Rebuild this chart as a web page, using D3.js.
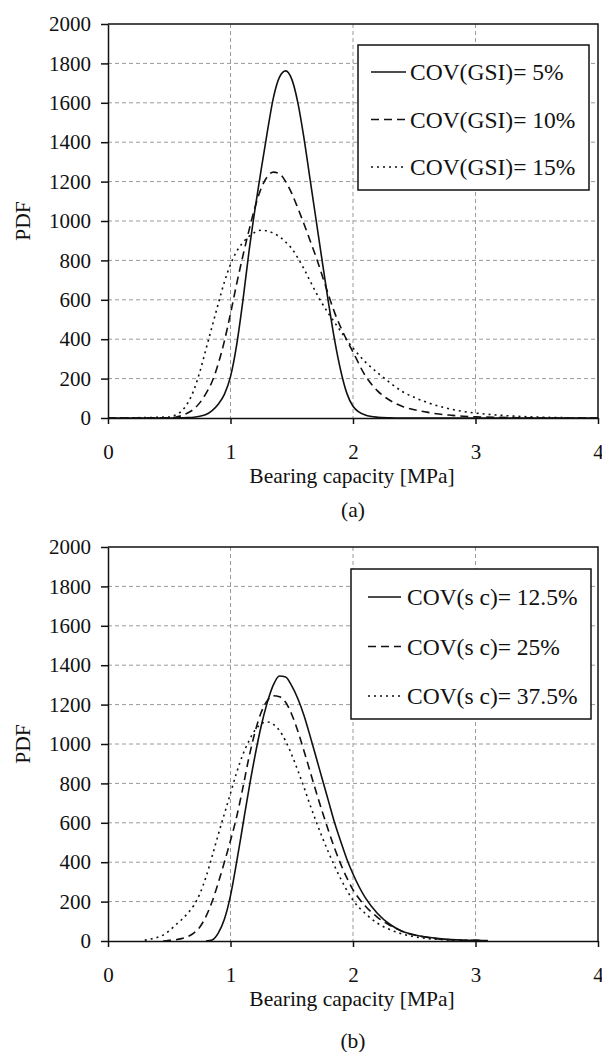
<!DOCTYPE html>
<html>
<head>
<meta charset="utf-8">
<script src="https://cdn.jsdelivr.net/npm/d3@7"></script>
<style>
  body { margin: 0; background: #fff; }
  svg { display: block; }
  svg text { font-family: "Liberation Serif", "Times New Roman", serif; }
</style>
</head>
<body>
<svg id="chart" width="602" height="1052"></svg>
<script>
// tick labels
const xTicks = [0, 1, 2, 3, 4];
const yTicks = [0, 200, 400, 600, 800, 1000, 1200, 1400, 1600, 1800, 2000];

// panel (a): x values shared by the three GSI curves
const xA = [0, 0.5, 0.55, 0.6, 0.65, 0.7, 0.75, 0.8, 0.85, 0.9, 0.95, 1.0, 1.05, 1.1, 1.15, 1.2, 1.25,
  1.3, 1.35, 1.4, 1.45, 1.5, 1.55, 1.6, 1.65, 1.7, 1.75, 1.8, 1.85, 1.9, 1.95, 2.0,
  2.1, 2.2, 2.3, 2.4, 2.5, 2.6, 2.7, 2.8, 2.9, 3.0, 3.2, 3.4, 3.6, 3.8, 4.0];
const gsi5 = [0, 0, 0, 1, 2, 4, 9, 18, 38, 70, 120, 210, 370, 590, 840, 1060, 1260,
  1450, 1625, 1730, 1762, 1720, 1600, 1420, 1210, 1000, 790, 585, 395, 240, 125, 60,
  15, 4, 1, 0, 0, 0, 0, 0, 0, 0, 0, 0, 0, 0, 0];
const gsi10 = [0, 1, 4, 12, 25, 45, 78, 125, 185, 275, 390, 530, 680, 820, 950, 1070, 1165,
  1225, 1248, 1240, 1200, 1140, 1065, 985, 900, 815, 720, 625, 535, 460, 395, 335,
  215, 138, 90, 60, 42, 30, 20, 14, 9, 6, 3, 1, 0, 0, 0];
const gsi15 = [0, 5, 15, 35, 75, 140, 235, 350, 465, 580, 690, 780, 845, 890, 922, 943, 953,
  950, 938, 920, 893, 860, 812, 757, 695, 635, 580, 530, 485, 440, 395, 355,
  285, 230, 180, 135, 105, 80, 60, 45, 33, 25, 14, 7, 3, 1, 0];

// panel (b): x values shared by the three sc curves
const xB = [0.3, 0.35, 0.4, 0.45, 0.5, 0.55, 0.6, 0.65, 0.7, 0.75, 0.8, 0.85, 0.9, 0.95, 1.0,
  1.05, 1.1, 1.15, 1.2, 1.25, 1.3, 1.35, 1.4, 1.45, 1.5, 1.55, 1.6, 1.65, 1.7, 1.75,
  1.8, 1.85, 1.9, 1.95, 2.0, 2.1, 2.2, 2.3, 2.4, 2.5, 2.6, 2.7, 2.8, 2.9, 3.0, 3.1];
const sc125 = [null, null, null, null, null, null, null, null, null, null, 0, 5, 40, 110, 230,
  400, 585, 770, 940, 1090, 1210, 1300, 1345, 1340, 1295, 1230, 1145, 1040, 930, 820,
  710, 600, 505, 415, 340, 220, 140, 85, 50, 32, 20, 12, 7, 4, 3, 2];
const sc25 = [null, null, null, 0, 3, 6, 12, 22, 40, 71, 125, 200, 295, 400, 510,
  630, 775, 930, 1060, 1160, 1220, 1245, 1240, 1212, 1150, 1065, 965, 860, 755, 655,
  560, 470, 390, 320, 260, 178, 120, 80, 50, 30, 19, 11, 6, 4, 3, 1];
const sc375 = [4, 10, 18, 30, 52, 80, 108, 140, 180, 240, 325, 430, 540, 645, 750,
  855, 945, 1015, 1070, 1102, 1112, 1100, 1068, 1015, 945, 865, 780, 690, 605, 525,
  450, 380, 315, 257, 207, 140, 90, 58, 36, 22, 13, 8, 5, 3, 2, 1];

const labelsA = ["COV(GSI)= 5%", "COV(GSI)= 10%", "COV(GSI)= 15%"];
const labelsB = ["COV(s c)= 12.5%", "COV(s c)= 25%", "COV(s c)= 37.5%"];

const dashes = [null, "8,5", "2,4"];

const svg = d3.select("#chart");
const left = 108, right = 598, plotH = 394;

function drawPanel(top, xs, ys, labels, caption, leg) {
  const x = d3.scaleLinear().domain([0, 4]).range([left, right]);
  const y = d3.scaleLinear().domain([0, 2000]).range([top + plotH, top]);
  const g = svg.append("g");

  // dashed grid
  g.selectAll(".hgrid").data(yTicks.slice(1, -1)).enter().append("line")
    .attr("x1", left).attr("x2", right)
    .attr("y1", d => y(d)).attr("y2", d => y(d))
    .attr("stroke", "#9a9a9a").attr("stroke-width", 1).attr("stroke-dasharray", "4,3");
  g.selectAll(".vgrid").data(xTicks.slice(1, -1)).enter().append("line")
    .attr("x1", d => x(d)).attr("x2", d => x(d))
    .attr("y1", top).attr("y2", top + plotH)
    .attr("stroke", "#9a9a9a").attr("stroke-width", 1).attr("stroke-dasharray", "4,3");

  // curves
  ys.forEach(function(vals, i) {
    const pts = xs.map((v, j) => [v, vals[j]]);
    const line = d3.line()
      .defined(d => d[1] != null)
      .x(d => x(d[0])).y(d => y(d[1]))
      .curve(d3.curveMonotoneX);
    g.append("path").datum(pts)
      .attr("d", line)
      .attr("fill", "none").attr("stroke", "#111").attr("stroke-width", 1.6)
      .attr("stroke-dasharray", dashes[i]);
  });

  // box top/right
  g.append("path")
    .attr("d", `M${left},${top}H${right}V${top + plotH}`)
    .attr("fill", "none").attr("stroke", "#111").attr("stroke-width", 1.5);

  // axes
  const ya = g.append("g").attr("transform", `translate(${left},0)`)
    .call(d3.axisLeft(y).tickValues(yTicks).tickFormat(d3.format("d"))
      .tickSize(7).tickSizeOuter(0).tickPadding(10));
  const xa = g.append("g").attr("transform", `translate(0,${top + plotH})`)
    .call(d3.axisBottom(x).tickValues(xTicks).tickFormat(d3.format("d"))
      .tickSize(6).tickSizeOuter(0).tickPadding(20));
  [ya, xa].forEach(a => {
    a.attr("font-family", null).attr("font-size", null);
    a.selectAll("path, line").attr("stroke", "#111").attr("stroke-width", 1.5);
    a.selectAll("text").style("font-size", "21px").attr("fill", "#111");
  });

  // axis titles
  g.append("text")
    .attr("x", 352).attr("y", top + plotH + 65)
    .attr("text-anchor", "middle").attr("font-size", 21.5).attr("fill", "#111")
    .text("Bearing capacity [MPa]");
  g.append("text")
    .attr("transform", `translate(30,${top + plotH / 2}) rotate(-90)`)
    .attr("text-anchor", "middle").attr("font-size", 21.5).attr("fill", "#111")
    .text("PDF");
  g.append("text")
    .attr("x", 353).attr("y", leg.capY)
    .attr("text-anchor", "middle").attr("font-size", 21.5).attr("fill", "#111")
    .text(caption);

  // legend
  g.append("rect")
    .attr("x", leg.x).attr("y", top + leg.y).attr("width", leg.w).attr("height", leg.h)
    .attr("fill", "#fff").attr("stroke", "#111").attr("stroke-width", 1.5);
  labels.forEach(function(t, i) {
    const cy = top + leg.row0 + i * leg.gap;
    g.append("line")
      .attr("x1", leg.sx).attr("x2", leg.sx + leg.sw).attr("y1", cy).attr("y2", cy)
      .attr("stroke", "#111").attr("stroke-width", 1.5)
      .attr("stroke-dasharray", dashes[i]);
    g.append("text")
      .attr("x", leg.tx).attr("y", cy).attr("dy", "0.35em")
      .attr("font-size", 23.5).attr("fill", "#111")
      .text(t);
  });
}

drawPanel(24, xA, [gsi5, gsi10, gsi15], labelsA, "(a)",
  {x: 358, y: 21, w: 231, h: 145, row0: 48, gap: 47.5, sx: 371, sw: 35, tx: 410, capY: 517});
drawPanel(547, xB, [sc125, sc25, sc375], labelsB, "(b)",
  {x: 351, y: 22, w: 240, h: 150, row0: 50, gap: 49.5, sx: 368, sw: 33, tx: 407, capY: 1048});
</script>
</body>
</html>
